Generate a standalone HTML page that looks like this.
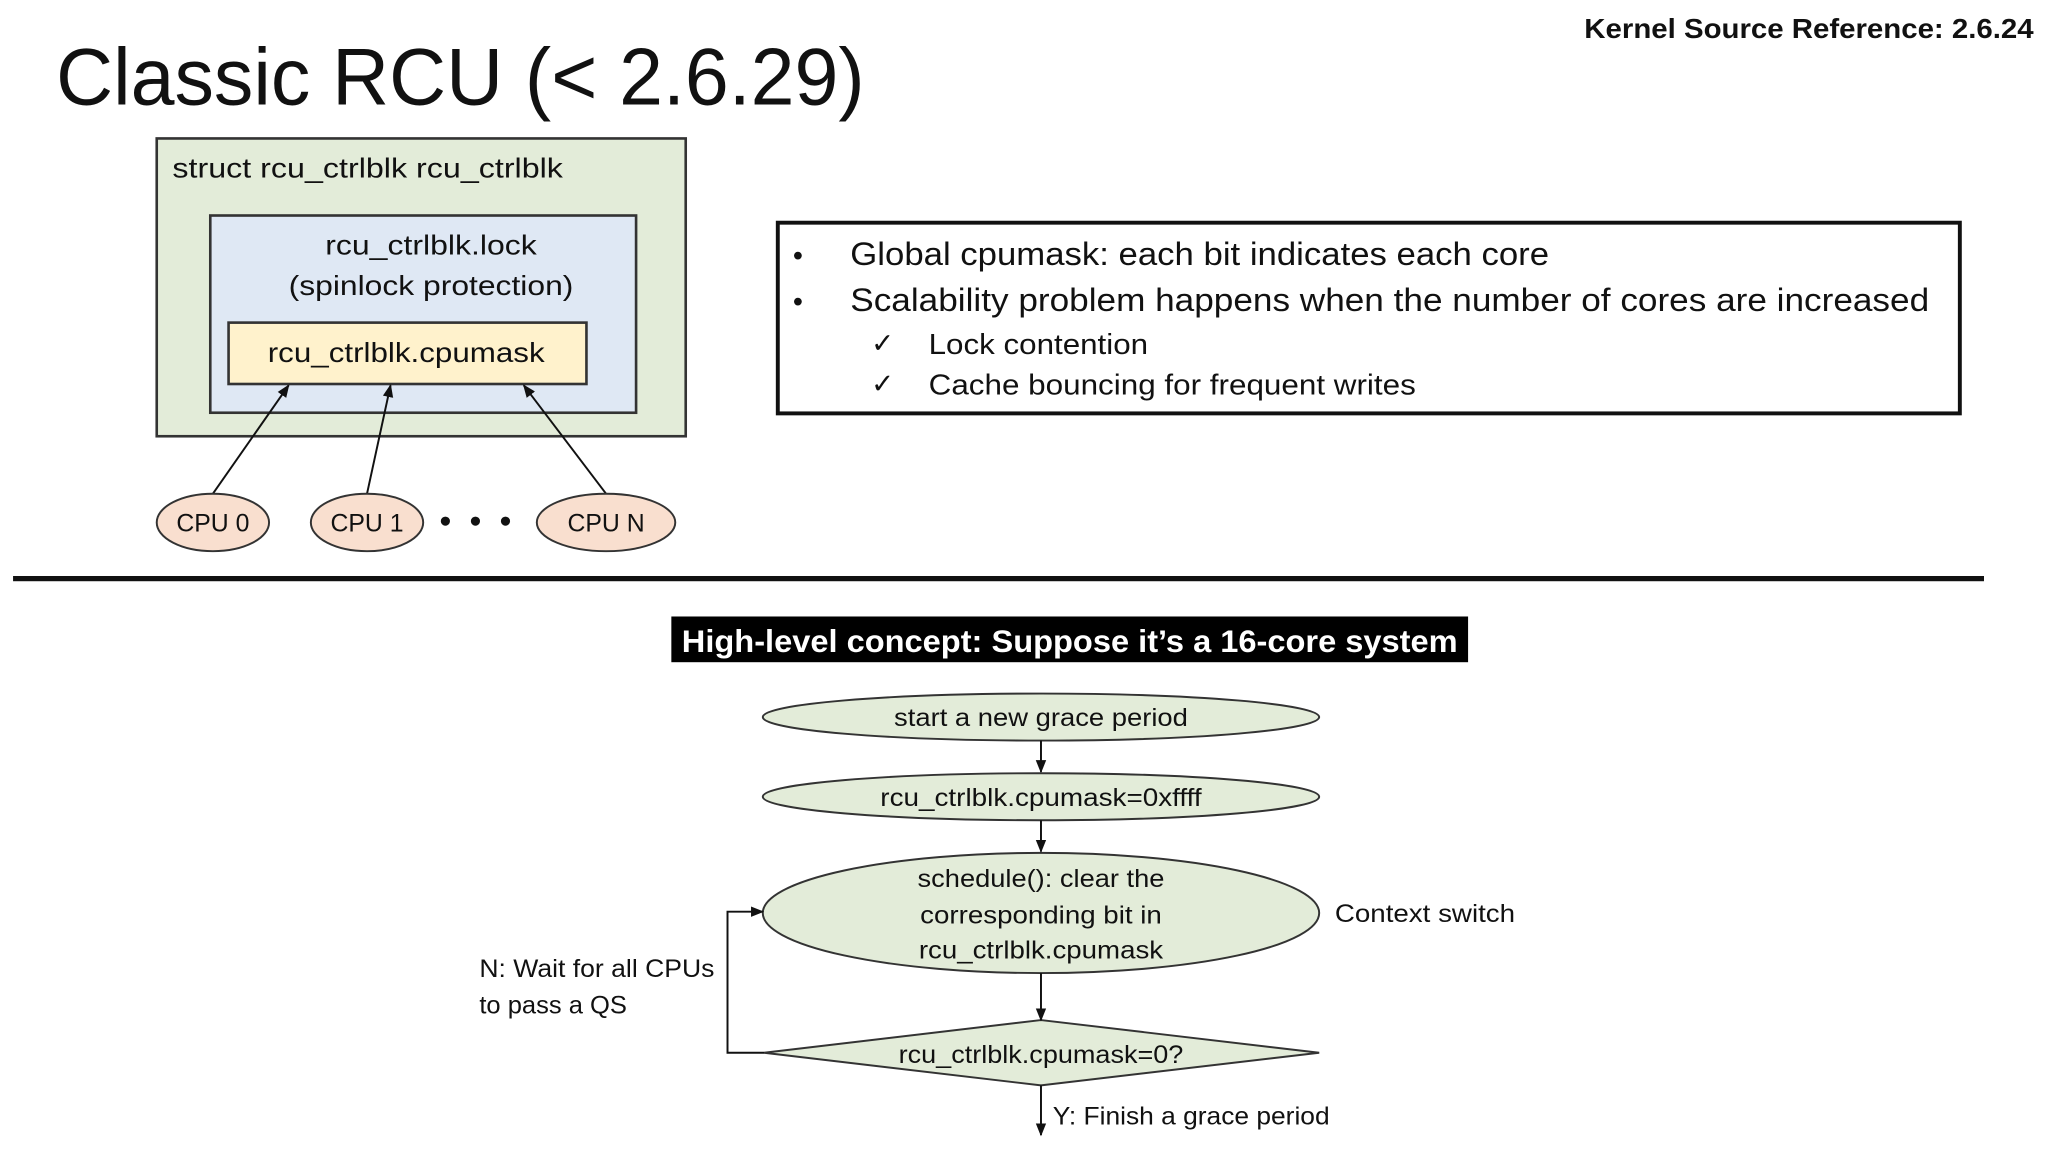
<!DOCTYPE html>
<html><head><meta charset="utf-8"><style>
html,body{margin:0;padding:0;background:#fff;}
svg{display:block;}
text{font-family:"Liberation Sans",sans-serif;fill:#111;}
</style></head><body>
<svg width="2048" height="1152" viewBox="0 0 1568 882" xmlns="http://www.w3.org/2000/svg">
<defs>
<marker id="a" markerWidth="10" markerHeight="10" refX="9" refY="5" orient="auto" markerUnits="userSpaceOnUse">
<path d="M0,1 L10,5 L0,9 z" fill="#111"/></marker>
</defs>
<rect width="1568" height="882" fill="#fff"/>
<text x="43" y="80" font-size="62" textLength="619" lengthAdjust="spacingAndGlyphs">Classic RCU (&lt; 2.6.29)</text>
<text x="1213" y="29" font-size="21" font-weight="bold" textLength="344" lengthAdjust="spacingAndGlyphs">Kernel Source Reference: 2.6.24</text>

<rect x="120" y="106" width="405" height="228" fill="#e3ecd9" stroke="#333" stroke-width="2"/>
<text x="132" y="136" font-size="21" textLength="299" lengthAdjust="spacingAndGlyphs">struct rcu_ctrlblk rcu_ctrlblk</text>
<rect x="161" y="165" width="326" height="151" fill="#dfe8f4" stroke="#333" stroke-width="2"/>
<text x="330" y="195" font-size="21" text-anchor="middle" textLength="162" lengthAdjust="spacingAndGlyphs">rcu_ctrlblk.lock</text>
<text x="330" y="226" font-size="21" text-anchor="middle" textLength="218" lengthAdjust="spacingAndGlyphs">(spinlock protection)</text>
<rect x="175" y="247" width="274" height="47" fill="#fff2cc" stroke="#333" stroke-width="2"/>
<text x="311" y="277" font-size="21" text-anchor="middle" textLength="212" lengthAdjust="spacingAndGlyphs">rcu_ctrlblk.cpumask</text>

<g stroke="#111" stroke-width="1.5" marker-end="url(#a)">
<line x1="163" y1="378" x2="221" y2="295"/>
<line x1="281" y1="378" x2="299" y2="295"/>
<line x1="464" y1="378" x2="401" y2="295"/>
</g>
<g fill="#f9dfcf" stroke="#333" stroke-width="1.5">
<ellipse cx="163" cy="400" rx="43" ry="22"/>
<ellipse cx="281" cy="400" rx="43" ry="22"/>
<ellipse cx="464" cy="400" rx="53" ry="22"/>
</g>
<text x="163" y="407" font-size="19" text-anchor="middle">CPU 0</text>
<text x="281" y="407" font-size="19" text-anchor="middle">CPU 1</text>
<text x="464" y="407" font-size="19" text-anchor="middle">CPU N</text>
<circle cx="341" cy="399" r="3.5" fill="#111"/><circle cx="364" cy="399" r="3.5" fill="#111"/><circle cx="387" cy="399" r="3.5" fill="#111"/>

<rect x="595.5" y="170.5" width="905" height="146" fill="#fff" stroke="#111" stroke-width="3"/>
<text x="607" y="203" font-size="22">•</text>
<text x="607" y="238" font-size="22">•</text>
<text x="651" y="203" font-size="25" textLength="535" lengthAdjust="spacingAndGlyphs">Global cpumask: each bit indicates each core</text>
<text x="651" y="238" font-size="25" textLength="826" lengthAdjust="spacingAndGlyphs">Scalability problem happens when the number of cores are increased</text>
<text x="667" y="270" font-size="21">✓</text>
<text x="667" y="301" font-size="21">✓</text>
<text x="711" y="271" font-size="22" textLength="168" lengthAdjust="spacingAndGlyphs">Lock contention</text>
<text x="711" y="302" font-size="22" textLength="373" lengthAdjust="spacingAndGlyphs">Cache bouncing for frequent writes</text>

<rect x="10" y="441" width="1509" height="4" fill="#111"/>

<rect x="514" y="472" width="610" height="35" fill="#000"/>
<text x="819" y="499" font-size="24" font-weight="bold" text-anchor="middle" style="fill:#fff" textLength="594" lengthAdjust="spacingAndGlyphs">High-level concept: Suppose it’s a 16-core system</text>

<g fill="#e3ecd9" stroke="#333" stroke-width="1.5">
<ellipse cx="797" cy="549" rx="213" ry="18"/>
<ellipse cx="797" cy="610" rx="213" ry="18"/>
<ellipse cx="797" cy="699" rx="213" ry="46"/>
<polygon points="585,806 797,781 1010,806 797,831"/>
</g>
<g stroke="#111" stroke-width="1.5" fill="none" marker-end="url(#a)">
<line x1="797" y1="567" x2="797" y2="591"/>
<line x1="797" y1="628" x2="797" y2="652"/>
<line x1="797" y1="745" x2="797" y2="781"/>
<line x1="797" y1="831" x2="797" y2="869"/>
<polyline points="585,806 557,806 557,698 584,698"/>
</g>
<text x="797" y="556" font-size="19" text-anchor="middle" textLength="225" lengthAdjust="spacingAndGlyphs">start a new grace period</text>
<text x="797" y="617" font-size="19" text-anchor="middle" textLength="246" lengthAdjust="spacingAndGlyphs">rcu_ctrlblk.cpumask=0xffff</text>
<text x="797" y="679" font-size="19" text-anchor="middle" textLength="189" lengthAdjust="spacingAndGlyphs">schedule(): clear the</text>
<text x="797" y="707" font-size="19" text-anchor="middle" textLength="185" lengthAdjust="spacingAndGlyphs">corresponding bit in</text>
<text x="797" y="734" font-size="19" text-anchor="middle" textLength="187" lengthAdjust="spacingAndGlyphs">rcu_ctrlblk.cpumask</text>
<text x="797" y="814" font-size="19" text-anchor="middle" textLength="218" lengthAdjust="spacingAndGlyphs">rcu_ctrlblk.cpumask=0?</text>
<text x="806" y="861" font-size="19" textLength="212" lengthAdjust="spacingAndGlyphs">Y: Finish a grace period</text>
<text x="1022" y="706" font-size="19" textLength="138" lengthAdjust="spacingAndGlyphs">Context switch</text>
<text x="367" y="748" font-size="19" textLength="180" lengthAdjust="spacingAndGlyphs">N: Wait for all CPUs</text>
<text x="367" y="776" font-size="19" textLength="113" lengthAdjust="spacingAndGlyphs">to pass a QS</text>
</svg>
</body></html>
